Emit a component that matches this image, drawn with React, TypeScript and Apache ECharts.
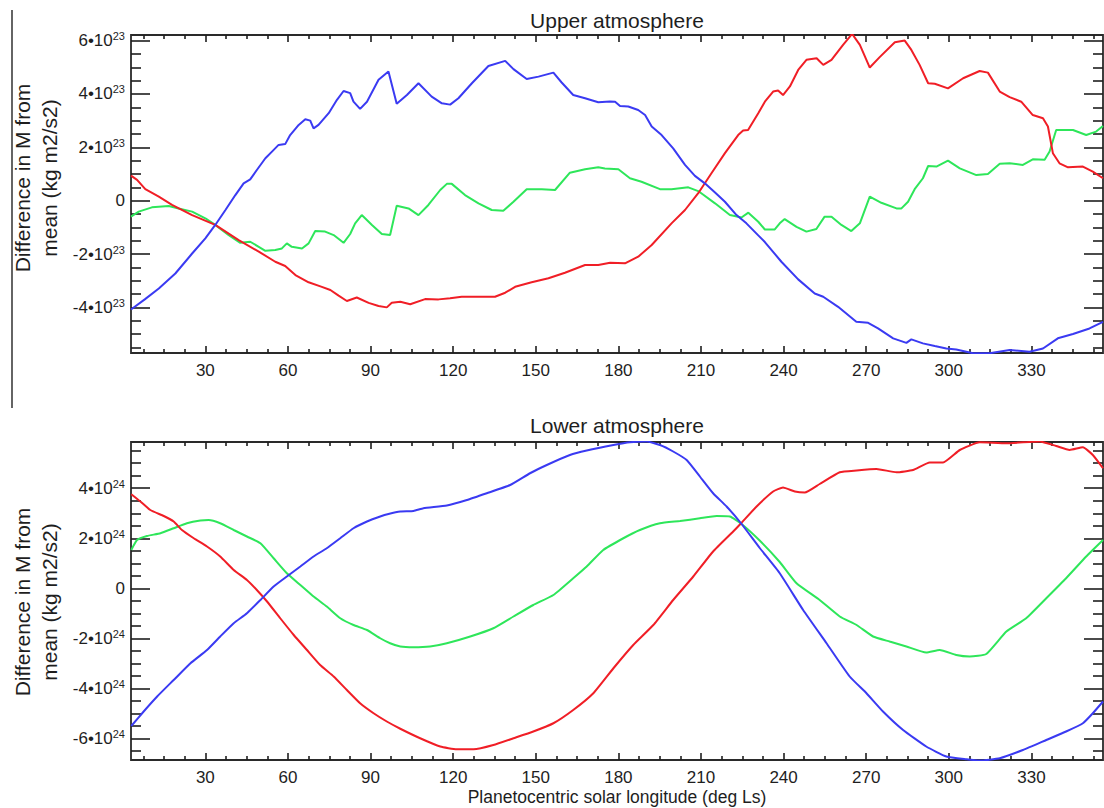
import React, { useEffect, useRef } from "react";
import * as echarts from "echarts";

// ---- Axis ticks (Ls in degrees) ----
const lsMin = 3;
const lsMax = 356;
const lsMajor = [30, 60, 90, 120, 150, 180, 210, 240, 270, 300, 330];
const upperYMajor = [-4, -2, 0, 2, 4, 6]; // x 10^23
const lowerYMajor = [-6, -4, -2, 0, 2, 4]; // x 10^24
const upperRange = [-5.71, 6.21];
const lowerRange = [-6.87, 5.85];

// ---- Upper atmosphere (units of 10^23 kg m2/s2) ----
const upperRed: [number, number][] = [
  [3.0, 0.94], [5.2, 0.78], [8.2, 0.43], [13.1, 0.15], [17.9, -0.16], [25.2, -0.54], [33.6, -0.91],
  [42.1, -1.48], [49.4, -1.91], [55.4, -2.29], [59, -2.45], [62.7, -2.79], [67.5, -3.06], [72.3, -3.23],
  [75.4, -3.35], [78.4, -3.56], [81.4, -3.76], [85, -3.63], [89.3, -3.83], [92.9, -3.95], [95.9, -4.0],
  [97.7, -3.83], [100.8, -3.79], [104.4, -3.88], [109.8, -3.69], [114.7, -3.7], [118.9, -3.66],
  [123.1, -3.6], [129.2, -3.6], [135.2, -3.6], [138.9, -3.45], [142.5, -3.23], [148.5, -3.06],
  [154.6, -2.91], [160.6, -2.7], [167.9, -2.41], [172.7, -2.41], [177, -2.33], [182.4, -2.35],
  [187.2, -2.1], [192.1, -1.66], [199.3, -0.85], [204.2, -0.35], [209, 0.28], [213.8, 1.03],
  [218.7, 1.78], [223.5, 2.46], [225.3, 2.63], [227.1, 2.65], [230.8, 3.28], [233.2, 3.71],
  [236.2, 4.09], [238, 4.13], [239.8, 3.96], [242.3, 4.28], [245.3, 4.9], [248.3, 5.28], [252, 5.34],
  [254.4, 5.09], [257.4, 5.28], [261.6, 5.84], [264.9, 6.25], [267.7, 5.84], [271.3, 4.99],
  [274.9, 5.38], [280.4, 5.94], [284, 6.0], [286.4, 5.65], [289.4, 5.09], [292.5, 4.4], [294.9, 4.38],
  [299.7, 4.21], [305.2, 4.59], [311.2, 4.86], [314.2, 4.8], [318.5, 4.09], [322.1, 3.88],
  [326.3, 3.71], [330.5, 3.21], [334.2, 3.09], [336, 2.78], [337.8, 1.78], [340.2, 1.4], [343.3, 1.25],
  [348.7, 1.28], [352.3, 1.09], [356, 0.84],
];
const upperGreen: [number, number][] = [
  [3, -0.6], [5.8, -0.41], [10.6, -0.25], [16.7, -0.2], [20.3, -0.29], [25.2, -0.41], [30, -0.66],
  [33.6, -0.91], [38.5, -1.29], [42.7, -1.58], [46.3, -1.54], [49.4, -1.73], [51.8, -1.88],
  [55.4, -1.85], [57.8, -1.79], [59.6, -1.6], [61.4, -1.73], [65.1, -1.79], [67.5, -1.6],
  [69.9, -1.14], [73.5, -1.16], [76.6, -1.29], [80.2, -1.58], [82.6, -1.25], [84.4, -0.85],
  [86.8, -0.54], [90.5, -0.91], [94.1, -1.25], [97.1, -1.29], [99.5, -0.19], [103.8, -0.29],
  [107.4, -0.54], [111, -0.16], [115.3, 0.4], [117.7, 0.63], [119.5, 0.63], [124.3, 0.21],
  [129.2, -0.1], [134, -0.35], [138.2, -0.38], [141.9, -0.04], [146.7, 0.43], [152.2, 0.43],
  [157, 0.4], [162.4, 1.05], [167.9, 1.18], [172.7, 1.25], [175.1, 1.21], [180, 1.18], [184.2, 0.84],
  [188.4, 0.71], [195.1, 0.43], [199.3, 0.43], [205.4, 0.5], [209, 0.36], [215.1, -0.1],
  [220.5, -0.54], [224.7, -0.63], [227.2, -0.45], [230.8, -0.79], [233.2, -1.08], [236.8, -1.08],
  [238.6, -0.85], [240.4, -0.69], [244.7, -0.98], [248.3, -1.16], [251.9, -1.06], [254.9, -0.6],
  [257.4, -0.6], [261, -0.91], [264.6, -1.14], [267.7, -0.85], [271.3, 0.15], [275.5, -0.08],
  [281, -0.29], [282.8, -0.29], [285.2, -0.04], [287.6, 0.43], [290.6, 0.84], [292.5, 1.3],
  [295.5, 1.28], [299.7, 1.5], [304, 1.21], [310, 0.96], [314.2, 1.0], [318.5, 1.38], [322.1, 1.4],
  [326.9, 1.34], [330.5, 1.55], [334.8, 1.53], [336.6, 1.84], [339, 2.65], [345.1, 2.65],
  [349.9, 2.46], [353.5, 2.59], [356, 2.8],
];
const upperBlue: [number, number][] = [
  [3.0, -4.08], [8, -3.7], [13.1, -3.29], [19.1, -2.73], [25.2, -1.98], [30, -1.41], [33.6, -0.91],
  [37.3, -0.35], [40.9, 0.21], [43.9, 0.65], [46.3, 0.8], [48.7, 1.15], [51.8, 1.59], [54.2, 1.84],
  [56.6, 2.09], [59, 2.12], [60.8, 2.46], [63.9, 2.84], [66.3, 3.05], [68.1, 3.0], [69.3, 2.71],
  [71.1, 2.84], [74.8, 3.28], [77.8, 3.78], [80.2, 4.11], [82.6, 4.03], [83.8, 3.71], [86.2, 3.44],
  [88.7, 3.71], [92.9, 4.53], [96.5, 4.84], [99.5, 3.63], [103.2, 3.96], [107.4, 4.4], [112.2, 3.9],
  [115.9, 3.65], [118.9, 3.6], [121.9, 3.84], [126.8, 4.4], [132.8, 5.05], [138.9, 5.24],
  [141.9, 4.93], [146.7, 4.56], [151, 4.65], [156.4, 4.8], [159.4, 4.43], [163.6, 3.96],
  [167.9, 3.84], [172.7, 3.69], [176.9, 3.72], [178.8, 3.71], [180.6, 3.55], [183.6, 3.53],
  [187.2, 3.4], [189.7, 3.21], [192.1, 2.78], [195.7, 2.46], [199.9, 1.96], [204.2, 1.34],
  [207.8, 0.93], [211.4, 0.65], [215.1, 0.31], [218.7, -0.04], [222.9, -0.54], [226.5, -0.85],
  [230.8, -1.3], [233.2, -1.55], [239.2, -2.29], [245.3, -2.95], [251.3, -3.48], [254.4, -3.6],
  [259.8, -3.98], [266.4, -4.54], [270.7, -4.58], [274.3, -4.79], [279.8, -5.16], [284.6, -5.33],
  [286.4, -5.2], [290.6, -5.35], [294.9, -5.45], [299.1, -5.54], [302.7, -5.58], [308.8, -5.72],
  [314.8, -5.72], [322.1, -5.6], [329.3, -5.66], [334.2, -5.54], [339.6, -5.16], [345.1, -5.0],
  [351.1, -4.79], [356, -4.54],
];

// ---- Lower atmosphere (units of 10^24 kg m2/s2) ----
const lowerRed: [number, number][] = [
  [3.1, 3.76], [6.4, 3.47], [10, 3.13], [14.9, 2.89], [18.5, 2.67], [21.5, 2.33], [25.8, 2.0],
  [30.6, 1.67], [35.4, 1.27], [40.3, 0.73], [45.1, 0.33], [48.7, -0.07], [52.4, -0.53], [57.2, -1.2],
  [62.1, -1.87], [66.9, -2.47], [71.7, -3.07], [76.6, -3.53], [81.4, -4.07], [86.2, -4.6],
  [91.1, -5.0], [95.9, -5.33], [100.8, -5.62], [108, -6.0], [115.3, -6.33], [121.3, -6.44],
  [127.4, -6.44], [134.6, -6.27], [141.9, -6.0], [149.1, -5.73], [156.4, -5.4], [163.6, -4.87],
  [170.9, -4.2], [178.2, -3.2], [185.4, -2.27], [192.7, -1.47], [199.9, -0.47], [207.2, 0.47],
  [214.4, 1.47], [221.7, 2.27], [224.4, 2.58], [230.2, 3.27], [236.2, 3.87], [239.8, 4.03],
  [244.1, 3.87], [247.7, 3.83], [253.1, 4.17], [260.4, 4.64], [266.5, 4.71], [273.7, 4.77],
  [281, 4.64], [287, 4.73], [293.1, 5.03], [297.9, 5.03], [304, 5.53], [311.2, 5.84], [320.9, 5.8],
  [333, 5.87], [339, 5.69], [343.9, 5.53], [348.7, 5.64], [352.3, 5.33], [356, 4.8],
];
const lowerGreen: [number, number][] = [
  [3.1, 1.53], [5.2, 1.93], [8.8, 2.09], [13.7, 2.2], [18.5, 2.4], [23.3, 2.6], [28.2, 2.71],
  [31.2, 2.73], [35.4, 2.6], [40.3, 2.33], [45.1, 2.07], [50, 1.8], [54.8, 1.2], [59.6, 0.6],
  [64.5, 0.13], [69.3, -0.33], [74.1, -0.73], [79, -1.2], [83.8, -1.47], [88.7, -1.67], [93.5, -2.0],
  [97.1, -2.2], [100.8, -2.33], [105.6, -2.36], [111.6, -2.33], [117.7, -2.2], [126.2, -1.93],
  [134.6, -1.6], [141.9, -1.13], [149.1, -0.67], [156.4, -0.27], [163.6, 0.4], [168.5, 0.87],
  [174.5, 1.53], [181.8, 2.0], [187.8, 2.33], [195.1, 2.6], [202.4, 2.69], [209.6, 2.8],
  [215.7, 2.89], [220.5, 2.87], [224.4, 2.6], [231.4, 1.9], [238.6, 1.05], [244.7, 0.2],
  [253.1, -0.47], [260.4, -1.13], [266.5, -1.47], [272.5, -1.93], [278.5, -2.13], [284.6, -2.33],
  [291.8, -2.57], [296.7, -2.47], [302.7, -2.67], [307.6, -2.73], [313.6, -2.63], [320.9, -1.73],
  [328.1, -1.2], [335.4, -0.4], [342.6, 0.4], [349.9, 1.27], [356, 1.93],
];
const lowerBlue: [number, number][] = [
  [3.1, -5.51], [7.6, -4.93], [12.5, -4.33], [18.5, -3.67], [24.6, -3.0], [30.6, -2.47],
  [35.4, -1.93], [40.3, -1.4], [45.1, -1.0], [50, -0.47], [54.8, 0.07], [59.6, 0.47], [64.5, 0.87],
  [69.3, 1.27], [74.1, 1.6], [79, 2.0], [83.8, 2.4], [88.7, 2.67], [93.5, 2.87], [96.5, 2.97],
  [100.8, 3.07], [105.6, 3.09], [109.2, 3.2], [117.7, 3.31], [125, 3.53], [132.2, 3.8], [140.7, 4.13],
  [147.9, 4.6], [154, 4.93], [162.4, 5.33], [168.5, 5.51], [178.2, 5.73], [184.2, 5.84],
  [190.3, 5.87], [195.1, 5.73], [199.9, 5.47], [204.8, 5.13], [209.6, 4.47], [214.4, 3.8],
  [219.3, 3.27], [224.4, 2.62], [231.4, 1.6], [238.6, 0.6], [247.1, -0.87], [255.6, -2.2],
  [264, -3.53], [270.1, -4.2], [276.1, -4.93], [283.4, -5.67], [291.8, -6.33], [299.1, -6.73],
  [306.4, -6.84], [311.2, -6.89], [318.5, -6.8], [326.9, -6.47], [335.4, -6.07], [342.6, -5.73],
  [348.7, -5.4], [352.3, -5.0], [356, -4.53],
];

const FONT = "'Liberation Sans', Arial, Helvetica, sans-serif";
const INK = "#1e1e1e";
const RED = "#f01e26";
const GREEN = "#2ee65a";
const BLUE = "#3a3af2";

function minorBetween(min: number, max: number, step: number, majors: number[]) {
  const out: number[] = [];
  const start = Math.ceil(min / step) * step;
  for (let v = start; v <= max + 1e-9; v += step) {
    const r = Math.round(v * 100) / 100;
    if (!majors.some((m) => Math.abs(m - r) < 1e-6)) out.push(r);
  }
  return out;
}

const hiddenLine = { show: false, onZero: false };

function xAxesFor(gridIndex: number, showLabels: boolean) {
  const minor = minorBetween(lsMin, lsMax, 7.5, lsMajor);
  const base = {
    gridIndex,
    type: "value" as const,
    min: lsMin,
    max: lsMax,
    axisLine: hiddenLine,
    splitLine: { show: false },
  };
  const tickStyle = { color: INK, width: 1.6 };
  return [
    {
      ...base,
      position: "bottom",
      axisTick: { show: true, inside: true, length: 7, customValues: lsMajor, lineStyle: tickStyle },
      axisLabel: {
        show: showLabels,
        customValues: lsMajor,
        margin: 9,
        fontSize: 17,
        color: INK,
        fontFamily: FONT,
      },
    },
    {
      ...base,
      position: "bottom",
      axisTick: { show: true, inside: true, length: 4, customValues: minor, lineStyle: tickStyle },
      axisLabel: { show: false },
    },
    {
      ...base,
      position: "top",
      axisTick: { show: true, inside: true, length: 7, customValues: lsMajor, lineStyle: tickStyle },
      axisLabel: { show: false },
    },
    {
      ...base,
      position: "top",
      axisTick: { show: true, inside: true, length: 4, customValues: minor, lineStyle: tickStyle },
      axisLabel: { show: false },
    },
  ];
}

function yAxesFor(gridIndex: number, range: number[], majors: number[], exp: string) {
  const minor = minorBetween(range[0], range[1], 0.5, majors);
  const base = {
    gridIndex,
    type: "value" as const,
    min: range[0],
    max: range[1],
    axisLine: hiddenLine,
    splitLine: { show: false },
  };
  const tickStyle = { color: INK, width: 1.6 };
  return [
    {
      ...base,
      position: "left",
      axisTick: { show: true, inside: true, length: 19, customValues: majors, lineStyle: tickStyle },
      axisLabel: {
        show: true,
        customValues: majors,
        margin: 6,
        formatter: (v: number) => (v === 0 ? "{m|0}" : `{m|${v}•10}{e|${exp}}`),
        rich: {
          m: { fontSize: 17, fontFamily: FONT, color: INK, lineHeight: 20 },
          e: { fontSize: 11, fontFamily: FONT, color: INK, lineHeight: 12, verticalAlign: "top" },
        },
      },
    },
    {
      ...base,
      position: "left",
      axisTick: { show: true, inside: true, length: 10, customValues: minor, lineStyle: tickStyle },
      axisLabel: { show: false },
    },
    {
      ...base,
      position: "right",
      axisTick: { show: true, inside: true, length: 19, customValues: majors, lineStyle: tickStyle },
      axisLabel: { show: false },
    },
    {
      ...base,
      position: "right",
      axisTick: { show: true, inside: true, length: 10, customValues: minor, lineStyle: tickStyle },
      axisLabel: { show: false },
    },
  ];
}

function lineSeries(name: string, data: [number, number][], color: string, axis: number, smooth: number) {
  return {
    name,
    type: "line",
    data,
    xAxisIndex: axis,
    yAxisIndex: axis,
    showSymbol: false,
    symbol: "none",
    smooth,
    lineStyle: { color, width: 2 },
    itemStyle: { color },
  };
}

function textEl(text: string, x: number, y: number, fontSize: number, rotation = 0) {
  return {
    type: "text",
    x,
    y,
    rotation,
    style: {
      text,
      fontSize,
      fontFamily: FONT,
      fill: INK,
      align: "center",
      verticalAlign: "middle",
      textAlign: "center",
      textVerticalAlign: "middle",
    },
  };
}

export default function App() {
  const ref = useRef<HTMLDivElement>(null);
  useEffect(() => {
    if (!ref.current) return;
    const chart = echarts.init(ref.current, undefined, { renderer: "svg" });
    const gridStyle = { show: true, borderColor: "#2a2a2a", borderWidth: 1.8, backgroundColor: "transparent" };
    chart.setOption({
      animation: false,
      backgroundColor: "#ffffff",
      grid: [
        { ...gridStyle, left: 131, top: 35, width: 972, height: 318 },
        { ...gridStyle, left: 131, top: 442, width: 972, height: 318 },
      ],
      xAxis: [...xAxesFor(0, true), ...xAxesFor(1, true)],
      yAxis: [
        ...yAxesFor(0, upperRange, upperYMajor, "23"),
        ...yAxesFor(1, lowerRange, lowerYMajor, "24"),
      ],
      series: [
        lineSeries("Upper green", upperGreen, GREEN, 0, 0),
        lineSeries("Upper red", upperRed, RED, 0, 0),
        lineSeries("Upper blue", upperBlue, BLUE, 0, 0),
        lineSeries("Lower green", lowerGreen, GREEN, 4, 0.15),
        lineSeries("Lower red", lowerRed, RED, 4, 0.15),
        lineSeries("Lower blue", lowerBlue, BLUE, 4, 0.15),
      ],
      graphic: [
        {
          type: "line",
          shape: { x1: 12, y1: 10, x2: 12, y2: 408 },
          style: { stroke: "#111", lineWidth: 1.3 },
        },
        textEl("Upper atmosphere", 617, 20, 21),
        textEl("Lower atmosphere", 617, 425, 21),
        textEl("Difference in M from", 22, 178, 21, Math.PI / 2),
        textEl("mean (kg m2/s2)", 49, 178, 21, Math.PI / 2),
        textEl("Difference in M from", 22, 602, 21, Math.PI / 2),
        textEl("mean (kg m2/s2)", 49, 602, 21, Math.PI / 2),
        textEl("Planetocentric solar longitude (deg Ls)", 617, 797, 17.5),
      ],
    });
    return () => chart.dispose();
  }, []);
  return (
    <div
      ref={ref}
      style={{ position: "fixed", left: 0, top: 0, width: 1104, height: 808, background: "#fff" }}
    />
  );
}
